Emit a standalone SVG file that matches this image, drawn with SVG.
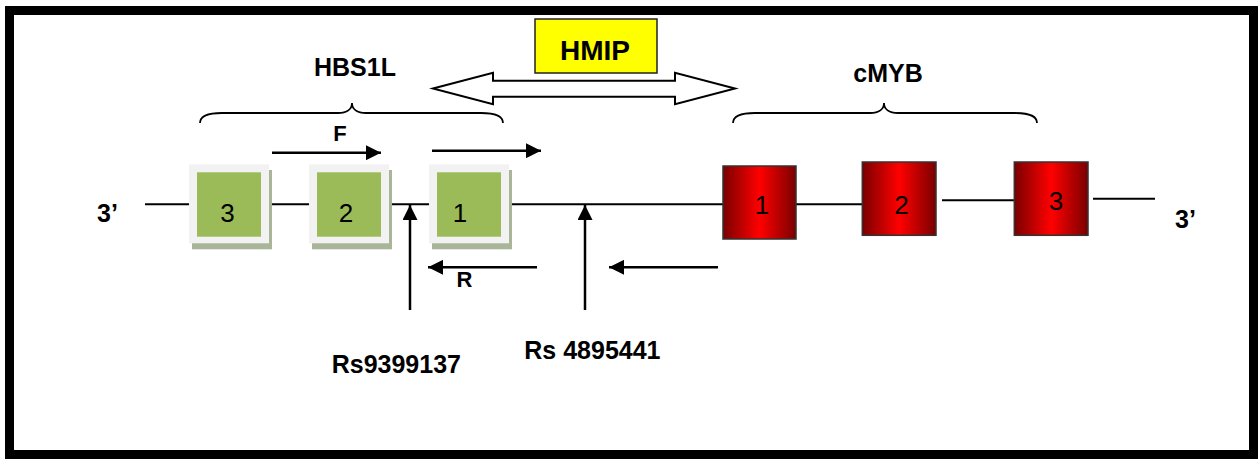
<svg xmlns="http://www.w3.org/2000/svg" width="1258" height="459" viewBox="0 0 1258 459">
<style>
.lbl{font-family:"Liberation Sans",Arial,sans-serif;font-weight:bold;fill:#000}
.num{font-family:"Liberation Sans",Arial,sans-serif;font-size:26px;fill:#000;text-anchor:middle}
.ln{stroke:#000;stroke-width:2;fill:none}
.arr{stroke:#000;stroke-width:2.5;fill:none}
.brace{stroke:#000;stroke-width:1.8;fill:none}
.outer{fill:#f2f2f2}
.shadow{fill:#a9b598}
.green{fill:#9bbb59}
.red{fill:url(#rg);stroke:#333;stroke-width:1.5}
</style>
<defs>
<linearGradient id="rg" x1="0" y1="0" x2="1" y2="0">
<stop offset="0" stop-color="#7a0000"/>
<stop offset="0.5" stop-color="#ff0000"/>
<stop offset="1" stop-color="#7a0000"/>
</linearGradient>
<marker id="ah" viewBox="0 0 10 10" refX="10" refY="5" markerWidth="6.5" markerHeight="6" markerUnits="strokeWidth" orient="auto">
<path d="M0,0 L10,5 L0,10 Z" fill="#000"/>
</marker>
</defs>
<rect x="9.5" y="10.5" width="1244" height="444" fill="#fff" stroke="#000" stroke-width="9"/>

<g id="connectors">
<line class="ln" x1="145" y1="204.3" x2="192" y2="204.3"/>
<line class="ln" x1="264" y1="204.3" x2="313" y2="204.3"/>
<line class="ln" x1="385" y1="204.3" x2="432" y2="204.3"/>
<line class="ln" x1="505" y1="204.3" x2="723" y2="204.3"/>
<line class="ln" x1="796" y1="204.3" x2="862" y2="204.3"/>
<line class="ln" x1="942" y1="200.3" x2="1015" y2="200.3"/>
<line class="ln" x1="1093" y1="198.7" x2="1155" y2="198.7"/>
<line class="arr" x1="272" y1="152.7" x2="381" y2="152.7" marker-end="url(#ah)"/>
<line class="arr" x1="432" y1="150.7" x2="541" y2="150.7" marker-end="url(#ah)"/>
<line class="arr" x1="537" y1="267.3" x2="428" y2="267.3" marker-end="url(#ah)"/>
<line class="arr" x1="718" y1="267.3" x2="609" y2="267.3" marker-end="url(#ah)"/>
<line class="arr" x1="410" y1="310" x2="410" y2="205" marker-end="url(#ah)"/>
<line class="arr" x1="585" y1="310" x2="585" y2="205" marker-end="url(#ah)"/>
<path class="brace" d="M200,123 C200,116 207,113 222,113 L338,113 C347,113 352,109 352,103 C352,109 357,113 366,113 L481,113 C496,113 503,116 503,123"/>
<path class="brace" d="M733,123 C733,116 740,113 755,113 L870,113 C879,113 884,109 884,103 C884,109 889,113 898,113 L1015,113 C1030,113 1037,116 1037,123"/>
<polygon points="433,88.5 493,72.7 493,80.7 675,80.7 675,72.7 735,88.5 675,104.3 675,96.7 493,96.7 493,104.3" fill="#fff" stroke="#000" stroke-width="2"/>
</g>

<g id="hmip">
<rect x="535" y="19" width="122" height="54" fill="#ffff00" stroke="#222" stroke-width="1.5"/>
<text class="lbl" x="595" y="60" font-size="28" text-anchor="middle">HMIP</text>
</g>
<g id="hbs1l-label"><text class="lbl" x="355" y="76" font-size="25" text-anchor="middle">HBS1L</text></g>
<g id="cmyb-label"><text class="lbl" x="888" y="82" font-size="25" text-anchor="middle">cMYB</text></g>
<g id="f-label"><text class="lbl" x="340" y="140.7" font-size="22" text-anchor="middle">F</text></g>
<g id="r-label"><text class="lbl" x="464.5" y="286.7" font-size="22" text-anchor="middle">R</text></g>
<g id="left-3p"><text class="lbl" x="97" y="221.7" font-size="25">3’</text></g>
<g id="right-3p"><text class="lbl" x="1175" y="227.7" font-size="25">3’</text></g>
<g id="rs9399137"><text class="lbl" x="331.7" y="373.3" font-size="25">Rs9399137</text></g>
<g id="rs4895441"><text class="lbl" x="524.3" y="359.3" font-size="25">Rs 4895441</text></g>

<g id="hbs1l-exon3">
<rect class="shadow" x="192" y="170" width="80" height="79.3"/>
<rect class="outer" x="189" y="164.3" width="80" height="79"/>
<rect class="green" x="197" y="172.3" width="64" height="64.4"/>
<text class="num" x="227.5" y="221.7">3</text>
</g>
<g id="hbs1l-exon2">
<rect class="shadow" x="312" y="170" width="80" height="79.3"/>
<rect class="outer" x="309" y="164.3" width="80" height="79"/>
<rect class="green" x="317" y="172.3" width="64" height="64.4"/>
<text class="num" x="346" y="221.7">2</text>
</g>
<g id="hbs1l-exon1">
<rect class="shadow" x="432" y="170" width="80" height="79.3"/>
<rect class="outer" x="429" y="164.3" width="80" height="79"/>
<rect class="green" x="437" y="172.3" width="64" height="64.4"/>
<text class="num" x="460" y="221.7">1</text>
</g>
<g id="cmyb-exon1">
<rect class="red" x="723" y="166" width="73" height="73"/>
<text class="num" x="762" y="214">1</text>
</g>
<g id="cmyb-exon2">
<rect class="red" x="862.3" y="162" width="73.7" height="73.3"/>
<text class="num" x="901.5" y="214">2</text>
</g>
<g id="cmyb-exon3">
<rect class="red" x="1014.3" y="162" width="73.7" height="73.3"/>
<text class="num" x="1056" y="210">3</text>
</g>
</svg>
